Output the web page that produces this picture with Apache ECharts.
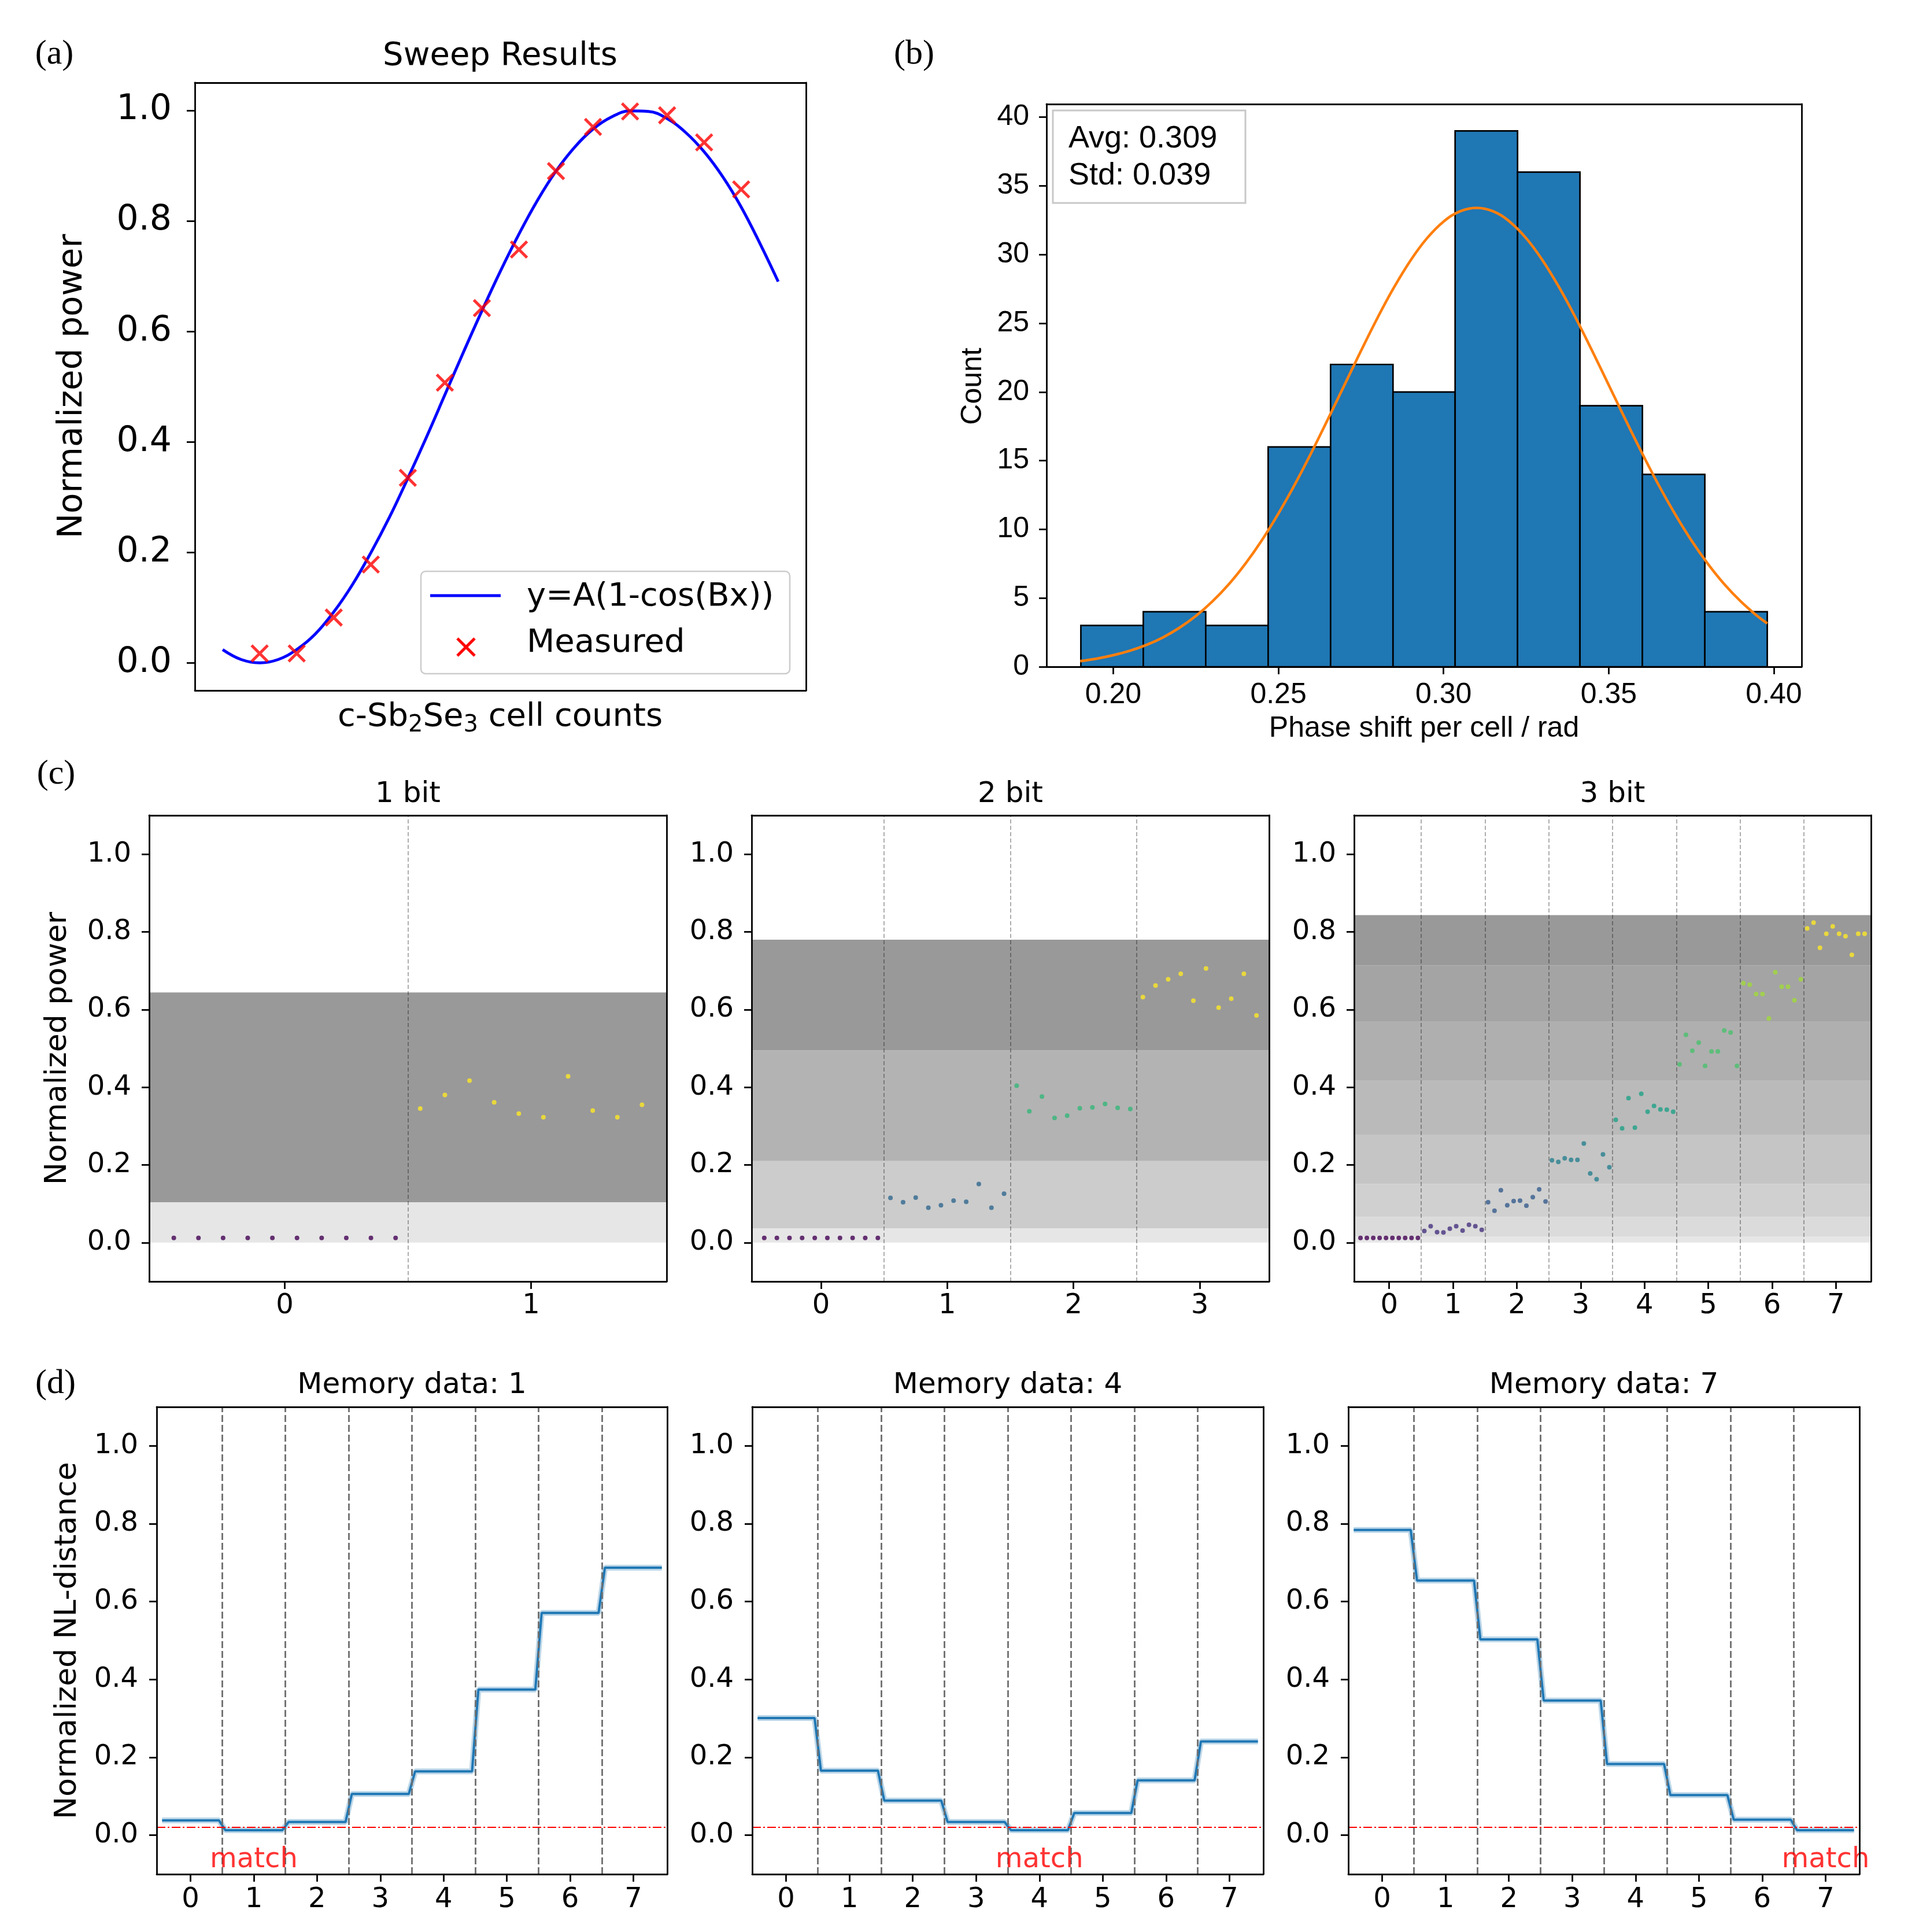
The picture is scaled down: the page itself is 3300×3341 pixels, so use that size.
<!DOCTYPE html>
<html><head><meta charset="utf-8">
<script src="https://cdn.jsdelivr.net/npm/echarts@6/dist/echarts.min.js"></script>
<style>html,body{margin:0;padding:0;background:#fff}#c{width:3300px;height:3341px}</style>
</head><body><div id="c"></div>
<script>
// ---------- (a) Sweep results ----------
const sweepCells = [0,1,2,3,4,5,6,7,8,9,10,11,12,13];
const sweepMeasured = [0.017,0.017,0.082,0.178,0.335,0.507,0.642,0.748,0.890,0.970,0.998,0.991,0.942,0.857];
const fitCells = [-1,-0.5,0,0.5,1,1.5,2,2.5,3,3.5,4,4.5,5,5.5,6,6.5,7,7.5,8,8.5,9,9.5,10,10.5,11,11.5,12,12.5,13,13.5,14];
const fitPower = [0.024,0.006,0.000,0.006,0.024,0.052,0.092,0.141,0.199,0.263,0.334,0.408,0.485,0.562,0.637,0.709,0.776,0.837,0.890,0.933,0.966,0.988,0.999,0.998,0.985,0.960,0.925,0.880,0.825,0.760,0.690];
const powerTicks = [0,0.2,0.4,0.6,0.8,1.0];

// ---------- (b) Histogram ----------
const binEdges = [0.1902,0.2091,0.2280,0.2469,0.2658,0.2847,0.3035,0.3224,0.3413,0.3602,0.3791,0.3980];
const binCounts = [3,4,3,16,22,20,39,36,19,14,4];
const gaussX = [0.190,0.195,0.200,0.205,0.210,0.215,0.220,0.225,0.230,0.235,0.240,0.245,0.250,0.255,0.260,0.265,0.270,0.275,0.280,0.285,0.290,0.295,0.300,0.305,0.310,0.315,0.320,0.325,0.330,0.335,0.340,0.345,0.350,0.355,0.360,0.365,0.370,0.375,0.380,0.385,0.390,0.395,0.398];
const gaussY = [0.41,0.59,0.84,1.16,1.58,2.13,2.83,3.69,4.75,6.01,7.50,9.21,11.15,13.28,15.59,18.02,20.51,22.99,25.39,27.61,29.57,31.19,32.40,33.15,33.40,33.15,32.40,31.19,29.57,27.61,25.39,22.99,20.51,18.02,15.59,13.28,11.15,9.21,7.50,6.01,4.75,3.69,3.15];
const histXTicks = [0.20,0.25,0.30,0.35,0.40];
const histYTicks = [0,5,10,15,20,25,30,35,40];
const statLines = ['Avg: 0.309','Std: 0.039'];

// ---------- (c) Level readout ----------
const bit1Power = [
  [0.012,0.012,0.012,0.012,0.012,0.012,0.012,0.012,0.012,0.012],
  [0.345,0.380,0.417,0.361,0.332,0.323,0.428,0.340,0.323,0.355]
];
const bit2Power = [
  [0.012,0.012,0.012,0.012,0.012,0.012,0.012,0.012,0.012,0.012],
  [0.115,0.104,0.116,0.090,0.096,0.108,0.105,0.151,0.090,0.126],
  [0.404,0.338,0.376,0.321,0.327,0.346,0.348,0.357,0.347,0.344],
  [0.632,0.662,0.678,0.692,0.623,0.706,0.605,0.628,0.692,0.585]
];
const bit3Power = [
  [0.012,0.012,0.012,0.012,0.012,0.012,0.012,0.012,0.012,0.012],
  [0.030,0.042,0.027,0.026,0.036,0.042,0.031,0.046,0.042,0.033],
  [0.104,0.082,0.135,0.096,0.107,0.108,0.095,0.117,0.137,0.106],
  [0.212,0.208,0.217,0.213,0.213,0.255,0.178,0.163,0.227,0.194],
  [0.316,0.294,0.372,0.296,0.383,0.337,0.352,0.343,0.342,0.337],
  [0.459,0.535,0.494,0.515,0.455,0.492,0.492,0.546,0.541,0.455],
  [0.668,0.664,0.640,0.640,0.577,0.696,0.659,0.659,0.624,0.678],
  [0.809,0.824,0.759,0.795,0.814,0.795,0.789,0.741,0.795,0.795]
];
const bit1Bands = [0, 0.104, 0.644];
const bit2Bands = [0, 0.037, 0.210, 0.495, 0.780];
const bit3Bands = [0, 0.016, 0.066, 0.151, 0.278, 0.418, 0.570, 0.714, 0.843];
const bitTitles = ['1 bit','2 bit','3 bit'];

// ---------- (d) NL-distance ----------
const memory1 = [0.038,0.013,0.034,0.106,0.164,0.374,0.571,0.687];
const memory4 = [0.301,0.166,0.089,0.034,0.013,0.057,0.141,0.241];
const memory7 = [0.784,0.654,0.503,0.346,0.183,0.103,0.040,0.013];
const memoryMatch = [1,4,7];
const memoryTitles = ['Memory data: 1','Memory data: 4','Memory data: 7'];
const matchThreshold = 0.02;
const levelTicks8 = [0,1,2,3,4,5,6,7];

// ---------- styles ----------
const LW = 2.8;
const DJ = "'DejaVu Sans', sans-serif";
const LS = "'Liberation Sans', Arial, sans-serif";
const SERIF = "'Liberation Serif', serif";
const matchLabelY = -0.063;
const viridis = {
  2: ['#440154','#fde725'],
  4: ['#440154','#31688e','#35b779','#fde725'],
  8: ['#440154','#46327e','#365c8d','#277f8e','#1fa187','#4ac16d','#a0da39','#fde725']
};
const bandGrays = {
  2: ['#e6e6e6','#999999'],
  4: ['#e6e6e6','#cccccc','#b3b3b3','#999999'],
  8: ['#e6e6e6','#dbdbdb','#d0d0d0','#c5c5c5','#bababa','#afafaf','#a4a4a4','#999999']
};

const grids = [], xAxes = [], yAxes = [], series = [], graphics = [];

function axisPair(list, gi, pos, other, cfg) {
  const line = {show:true, onZero:false, lineStyle:{color:'#000', width:LW}};
  const idx = list.length;
  list.push({gridIndex:gi, type:'value', position:pos, min:cfg.min, max:cfg.max, z:10,
    axisLine: line,
    axisTick: cfg.ticks ? {show:true, inside:false, length:cfg.tl, customValues:cfg.ticks, lineStyle:{color:'#000', width:LW}} : {show:false},
    axisLabel: cfg.ticks ? {show:true, customValues:cfg.ticks, formatter:cfg.fmt, margin:cfg.margin,
      fontSize:cfg.fs, fontFamily:cfg.ff, color:'#000'} : {show:false},
    splitLine:{show:false}});
  list.push({gridIndex:gi, type:'value', position:other, min:cfg.min, max:cfg.max, z:10,
    axisLine: line, axisTick:{show:false}, axisLabel:{show:false}, splitLine:{show:false}});
  return idx;
}
function panel(rect, xs, ys) {
  const gi = grids.length;
  grids.push({left:rect[0], top:rect[1], width:rect[2], height:rect[3]});
  const xi = axisPair(xAxes, gi, 'bottom', 'top', xs);
  const yi = axisPair(yAxes, gi, 'left', 'right', ys);
  return {xi, yi};
}
function txt(x, y, s, fs, ff, opt) {
  opt = opt || {};
  const style = {text:s, fontSize:fs, fontFamily:ff, fill: opt.color || '#000',
      align: opt.align || 'center', textAlign: opt.align || 'center',
      verticalAlign:'middle', textVerticalAlign:'middle'};
  if (opt.rich) style.rich = opt.rich;
  graphics.push({type:'text', x:x, y:y, rotation: opt.rot || 0, z:100, style: style});
}
const f1 = v => Number(v).toFixed(1);
const f2 = v => Number(v).toFixed(2);
const fi = v => String(Math.round(v));

// ---------- (a) ----------
const A = panel([337,143,1057,1051], {min:-1.75, max:14.75},
  {min:-0.05, max:1.05, ticks:powerTicks, fmt:f1, tl:14, margin:40, fs:60, ff:DJ});
series.push({type:'line', xAxisIndex:A.xi, yAxisIndex:A.yi, data: fitCells.map((c,i)=>[c, fitPower[i]]),
  smooth:0.4, showSymbol:false, symbol:'none', lineStyle:{color:'#0000ff', width:5}, z:3, silent:true});
series.push({type:'scatter', xAxisIndex:A.xi, yAxisIndex:A.yi, data: sweepCells.map((c,i)=>[c, sweepMeasured[i]]),
  symbol:'path://M0,0L10,10M10,0L0,10', symbolSize:28,
  itemStyle:{color:'rgba(0,0,0,0)', borderColor:'#ff0000', borderWidth:5}, z:4, silent:true});
txt(94, 94, '(a)', 60, SERIF);
txt(865, 97, 'Sweep Results', 56, DJ);
txt(126, 668, 'Normalized power', 58, DJ, {rot: Math.PI/2});
txt(865, 1240, '{n|c-Sb}{s|2}{n|Se}{s|3}{n| cell counts}', 56, DJ, {rich: {
  n: {fontSize:56, fontFamily:DJ, lineHeight:70, fill:'#000', color:'#000'},
  s: {fontSize:40, fontFamily:DJ, lineHeight:40, verticalAlign:'bottom', fill:'#000', color:'#000'}
}});
// legend
graphics.push({type:'rect', z:99, shape:{x:728, y:988, width:638, height:177, r:8},
  style:{fill:'rgba(255,255,255,0.85)', stroke:'#cccccc', lineWidth:2.5}});
graphics.push({type:'line', z:100, shape:{x1:744, y1:1030, x2:866, y2:1030}, style:{stroke:'#0000ff', lineWidth:5}});
graphics.push({type:'line', z:100, shape:{x1:791, y1:1104, x2:821, y2:1134}, style:{stroke:'#ff0000', lineWidth:5}});
graphics.push({type:'line', z:100, shape:{x1:821, y1:1104, x2:791, y2:1134}, style:{stroke:'#ff0000', lineWidth:5}});
txt(911, 1032, 'y=A(1-cos(Bx))', 56, DJ, {align:'left'});
txt(911, 1112, 'Measured', 56, DJ, {align:'left'});

// ---------- (b) ----------
const B = panel([1810,180,1306,973],
  {min:0.1798, max:0.4084, ticks:histXTicks, fmt:f2, tl:13, margin:24, fs:50, ff:LS},
  {min:0, max:40.95, ticks:histYTicks, fmt:fi, tl:13, margin:30, fs:50, ff:LS});
series.push({type:'custom', xAxisIndex:B.xi, yAxisIndex:B.yi, silent:true, z:2,
  data: binCounts.map((c,i)=>[binEdges[i], binEdges[i+1], c]),
  encode:{x:[0,1], y:2},
  renderItem: function(params, api) {
    const p0 = api.coord([api.value(0), api.value(2)]);
    const p1 = api.coord([api.value(1), 0]);
    return {type:'rect', shape:{x:p0[0], y:p0[1], width:p1[0]-p0[0], height:p1[1]-p0[1]},
      style:{fill:'#1f77b4', stroke:'#000', lineWidth:2.7}};
  }});
series.push({type:'line', xAxisIndex:B.xi, yAxisIndex:B.yi, data: gaussX.map((x,i)=>[x, gaussY[i]]),
  smooth:0.4, showSymbol:false, symbol:'none', lineStyle:{color:'#ff7f0e', width:4.5}, z:3, silent:true});
txt(1581, 94, '(b)', 60, SERIF);
txt(1683, 668, 'Count', 50, LS, {rot: Math.PI/2});
txt(2463, 1260, 'Phase shift per cell / rad', 50, LS);
graphics.push({type:'rect', z:99, shape:{x:1821, y:191, width:333, height:160},
  style:{fill:'#ffffff', stroke:'#c8c8c8', lineWidth:3}});
txt(1848, 240, statLines[0], 54, LS, {align:'left'});
txt(1848, 304, statLines[1], 54, LS, {align:'left'});

// ---------- (c) ----------
const cRects = [[258,1410,895,806],[1300,1410,895,806],[2342,1410,894,806]];
const cData = [bit1Power, bit2Power, bit3Power];
const cBands = [bit1Bands, bit2Bands, bit3Bands];
cData.forEach(function(levels, p) {
  const n = levels.length;
  const ticks = levels.map((_, k) => k);
  const P = panel(cRects[p], {min:-0.55, max:n-0.45, ticks:ticks, fmt:fi, tl:13, margin:19, fs:48, ff:DJ},
    {min:-0.1, max:1.1, ticks:powerTicks, fmt:f1, tl:13, margin:31, fs:48, ff:DJ});
  const bands = cBands[p], grays = bandGrays[n];
  series.push({type:'custom', xAxisIndex:P.xi, yAxisIndex:P.yi, silent:true, z:1,
    data: bands.slice(0,-1).map((b,i)=>[b, bands[i+1], i]),
    renderItem: function(params, api) {
      const cs = params.coordSys;
      const yTop = api.coord([0, api.value(1)])[1];
      const yBot = api.coord([0, api.value(0)])[1];
      return {type:'rect', shape:{x:cs.x, y:yTop, width:cs.width, height:yBot-yTop},
        style:{fill: grays[api.value(2)]}};
    }});
  levels.forEach(function(vals, k) {
    const s = {type:'scatter', xAxisIndex:P.xi, yAxisIndex:P.yi, silent:true, z:3,
      data: vals.map((v,j)=>[k + (j-4.5)/10, v]),
      symbol:'circle', symbolSize:8, itemStyle:{color: viridis[n][k]}};
    if (k === 0) {
      s.markLine = {silent:true, symbol:['none','none'], label:{show:false}, animation:false,
        lineStyle:{color:'rgba(0,0,0,0.4)', width:1.6, type:[7,4]},
        data: ticks.slice(1).map(t => ({xAxis: t - 0.5}))};
    }
    series.push(s);
  });
  txt(cRects[p][0] + cRects[p][2]/2, 1374, bitTitles[p], 50, DJ);
});
txt(97, 1339, '(c)', 60, SERIF);
txt(100, 1813, 'Normalized power', 52, DJ, {rot: Math.PI/2});

// ---------- (d) ----------
const dRects = [[271,2433,883,808],[1301,2433,884,808],[2332,2433,884,808]];
const dData = [memory1, memory4, memory7];
dData.forEach(function(levels, p) {
  const P = panel(dRects[p], {min:-0.535, max:7.535, ticks:levelTicks8, fmt:fi, tl:13, margin:21, fs:48, ff:DJ},
    {min:-0.1, max:1.1, ticks:powerTicks, fmt:f1, tl:13, margin:32, fs:48, ff:DJ});
  const pts = [];
  levels.forEach((v,k) => { pts.push([k-0.45, v]); pts.push([k+0.45, v]); });
  series.push({type:'line', xAxisIndex:P.xi, yAxisIndex:P.yi, data: pts, showSymbol:false, symbol:'none',
    silent:true, z:2, lineStyle:{color:'rgba(31,119,180,0.3)', width:10}});
  series.push({type:'line', xAxisIndex:P.xi, yAxisIndex:P.yi, data: pts, showSymbol:false, symbol:'none',
    silent:true, z:3, lineStyle:{color:'#1f77b4', width:4},
    markLine: {silent:true, symbol:['none','none'], label:{show:false}, animation:false,
      data: levelTicks8.slice(1).map(t => ({xAxis: t - 0.5, lineStyle:{color:'#6e6e6e', width:2.8, type:[12,5]}}))
        .concat([{yAxis: matchThreshold, lineStyle:{color:'#ff0000', width:2, type:[15,4,3,4]}}])}});
  series.push({type:'scatter', xAxisIndex:P.xi, yAxisIndex:P.yi, silent:true, z:5,
    data: [[memoryMatch[p], matchLabelY]], symbolSize:1, itemStyle:{color:'rgba(0,0,0,0)'},
    label:{show:true, position:'inside', formatter:'match', color:'#ff0000', fontSize:48, fontFamily:DJ}});
  txt(dRects[p][0] + dRects[p][2]/2, 2396, memoryTitles[p], 50, DJ);
});
txt(96, 2393, '(d)', 60, SERIF);
txt(117, 2837, 'Normalized NL-distance', 52, DJ, {rot: Math.PI/2});

const chart = echarts.init(document.getElementById('c'), null, {renderer:'canvas'});
chart.setOption({
  animation:false, backgroundColor:'#ffffff',
  grid: grids, xAxis: xAxes, yAxis: yAxes, series: series,
  graphic: {elements: graphics}
});
</script></body></html>
